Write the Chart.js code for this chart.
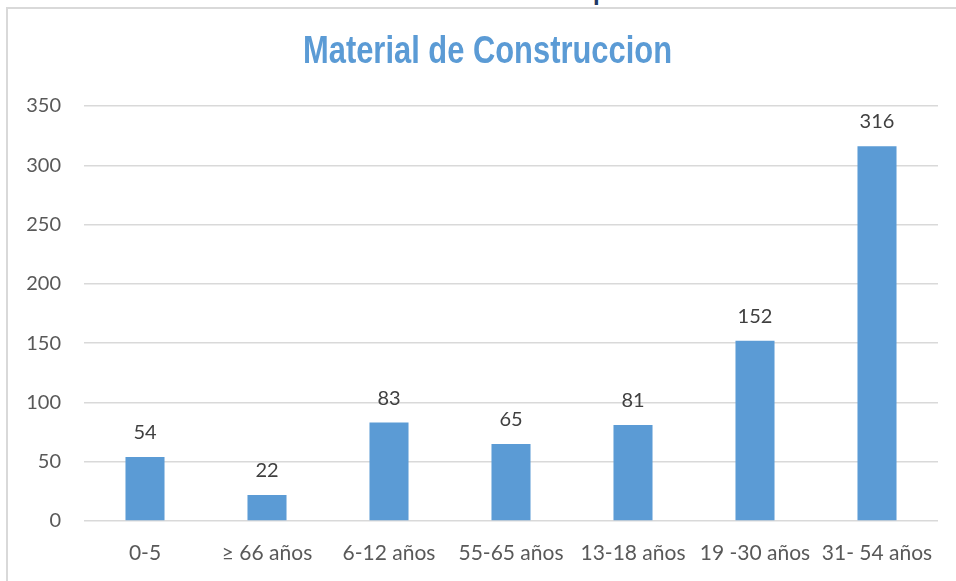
<!DOCTYPE html>
<html>
<head>
<meta charset="utf-8">
<script src="https://cdn.jsdelivr.net/npm/chart.js@4.4.0/dist/chart.umd.min.js"></script>
<style>
  html, body { margin: 0; padding: 0; background: #fff; overflow: hidden; }
  #wrap { position: relative; width: 956px; height: 581px; }
  #frame { position: absolute; left: 6px; top: 7px; right: 0; bottom: -4px; border-top: 2px solid #d9d9d9; border-left: 2px solid #d9d9d9; }
  #frag { position: absolute; left: 593px; top: -22px; font: bold 24px "Liberation Sans", Arial, sans-serif; color: #1F3864; }
  canvas { position: absolute; left: 0; top: 0; }
</style>
</head>
<body>
<div id="wrap">
  <div id="frag">p</div>
  <div id="frame"></div>
  <canvas id="c" width="956" height="581"></canvas>
</div>
<script>
const categories = ["0-5", "≥ 66 años", "6-12 años", "55-65 años", "13-18 años", "19 -30 años", "31- 54 años"];
const values = [54, 22, 83, 65, 81, 152, 316];
const titleText = "Material de Construccion";

const labelPlugin = {
  id: 'barLabels',
  afterDatasetsDraw(chart) {
    const ctx = chart.ctx;
    const meta = chart.getDatasetMeta(0);
    ctx.save();
    ctx.font = '20px Lato, "Open Sans", sans-serif';
    ctx.fillStyle = '#404040';
    ctx.textAlign = 'center';
    ctx.textBaseline = 'alphabetic';
    meta.data.forEach((bar, i) => {
      ctx.fillText(String(values[i]), bar.x, bar.y - 18);
    });
    ctx.restore();
  }
};

// Condensed bold title (no narrow font installed, so the text is drawn horizontally compressed)
const titlePlugin = {
  id: 'narrowTitle',
  afterDraw(chart) {
    const ctx = chart.ctx;
    ctx.save();
    ctx.font = 'bold 39px "Liberation Sans", Arial, sans-serif';
    ctx.fillStyle = '#5B9BD5';
    ctx.textAlign = 'center';
    ctx.textBaseline = 'alphabetic';
    const w = ctx.measureText(titleText).width;
    const sx = 369 / w;
    ctx.translate(487.5, 63);
    ctx.scale(sx, 1);
    ctx.fillText(titleText, 0, 0);
    ctx.restore();
  }
};

new Chart(document.getElementById('c'), {
  type: 'bar',
  data: {
    labels: categories,
    datasets: [{
      data: values,
      backgroundColor: '#5B9BD5',
      borderWidth: 0,
      categoryPercentage: 1,
      barPercentage: 0.32
    }]
  },
  options: {
    responsive: false,
    animation: false,
    layout: { padding: { left: 0, right: 18, top: 106, bottom: 0 } },
    plugins: {
      legend: { display: false },
      tooltip: { enabled: false },
      title: { display: false }
    },
    scales: {
      y: {
        min: 0,
        max: 350,
        ticks: {
          stepSize: 50,
          color: '#595959',
          font: { family: 'Lato, "Open Sans", sans-serif', size: 20 },
          padding: 23
        },
        grid: { color: '#d9d9d9', lineWidth: 1.5, drawTicks: false },
        border: { display: false },
        afterFit(scale) { scale.width = 84; }
      },
      x: {
        ticks: {
          color: '#595959',
          font: { family: 'Lato, "Open Sans", sans-serif', size: 21 },
          padding: 20,
          maxRotation: 0,
          autoSkip: false
        },
        grid: { display: false, drawTicks: false },
        border: { display: false },
        afterFit(scale) { scale.height = 60; }
      }
    }
  },
  plugins: [labelPlugin, titlePlugin]
});
</script>
</body>
</html>
